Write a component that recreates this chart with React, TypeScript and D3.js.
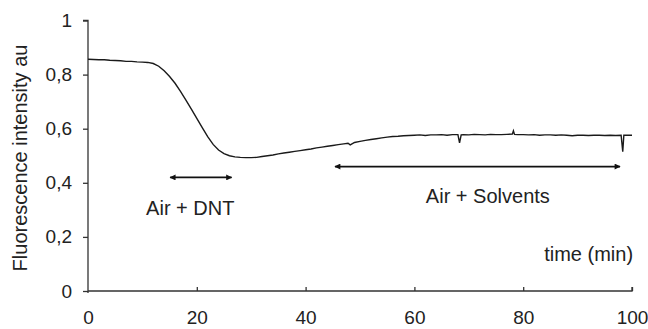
import React, { useEffect, useRef } from 'react';
import * as d3 from 'd3';

// time (min) and fluorescence intensity
const times = [
  0, 1, 2, 3, 4, 5, 6, 7, 8, 9, 10, 11, 12, 13, 14, 15, 16, 17, 18, 19,
  20, 21, 22, 23, 24, 25, 26, 27, 28, 29, 30, 31, 32, 33, 34, 35, 36, 37, 38, 39,
  40, 41, 42, 43, 44, 45, 46, 47, 47.8, 48.2, 49, 50, 51, 52, 53, 54, 55, 56, 57, 58, 59,
  60, 61, 62, 63, 64, 65, 66, 67, 68, 68.3, 68.6, 69, 70, 71, 72, 73, 74, 75, 76, 77,
  78, 78.2, 78.4, 79, 80, 81, 82, 83, 84, 85, 86, 87, 88, 89, 90, 91, 92, 93, 94, 95, 96, 97,
  98, 98.3, 98.5, 99, 100
];
const intensity = [
  0.857, 0.856, 0.855, 0.855, 0.853, 0.852, 0.851, 0.849, 0.849, 0.847, 0.846, 0.845, 0.841, 0.831, 0.814, 0.793, 0.768, 0.738, 0.706, 0.672,
  0.638, 0.604, 0.571, 0.542, 0.521, 0.508, 0.500, 0.496, 0.494, 0.493, 0.493, 0.494, 0.497, 0.500, 0.503, 0.507, 0.510, 0.513, 0.516, 0.519,
  0.522, 0.525, 0.529, 0.532, 0.535, 0.538, 0.541, 0.544, 0.546, 0.540, 0.549, 0.553, 0.557, 0.560, 0.563, 0.566, 0.569, 0.571, 0.572, 0.574, 0.575,
  0.576, 0.577, 0.575, 0.577, 0.577, 0.578, 0.576, 0.578, 0.578, 0.548, 0.577, 0.578, 0.577, 0.579, 0.578, 0.577, 0.579, 0.578, 0.578, 0.579,
  0.580, 0.592, 0.579, 0.578, 0.578, 0.577, 0.578, 0.576, 0.577, 0.577, 0.576, 0.577, 0.576, 0.574, 0.576, 0.576, 0.575, 0.576, 0.576, 0.575, 0.576, 0.575,
  0.576, 0.515, 0.576, 0.576, 0.576
];

const xTicks = [0, 20, 40, 60, 80, 100];
const yTicks = [0, 0.2, 0.4, 0.6, 0.8, 1];
const yTickLabels = ['0', '0,2', '0,4', '0,6', '0,8', '1'];

// exposure periods: start, end, arrow level, label position
const periodLabels = ['Air + DNT', 'Air + Solvents'];
const periodStart = [15.1, 45.4];
const periodEnd = [26.4, 97.8];
const periodLevel = [0.42, 0.46];
const periodTextX = [18.8, 73.5];
const periodTextY = [0.281, 0.324];

export default function App() {
  const svgRef = useRef<SVGSVGElement>(null);

  useEffect(() => {
    const width = 648;
    const height = 329;
    const font = 'Liberation Sans, Arial, sans-serif';

    const svg = d3.select(svgRef.current)
      .attr('width', width)
      .attr('height', height);
    svg.selectAll('*').remove();

    const x = d3.scaleLinear().domain([0, 100]).range([88, 632]);
    const y = d3.scaleLinear().domain([0, 1]).range([291, 20.5]);

    svg.append('rect').attr('width', width).attr('height', height).attr('fill', '#fff');

    svg.append('defs').append('marker')
      .attr('id', 'head')
      .attr('viewBox', '0 0 10 10')
      .attr('refX', 9).attr('refY', 5)
      .attr('markerWidth', 8).attr('markerHeight', 6)
      .attr('markerUnits', 'userSpaceOnUse')
      .attr('orient', 'auto-start-reverse')
      .append('path').attr('d', 'M0,0L10,5L0,10Z').attr('fill', '#111');

    // y axis
    const yAxis = svg.append('g').attr('transform', `translate(${x(0)},0)`)
      .call(d3.axisLeft(y).tickValues(yTicks).tickSize(5).tickPadding(11)
        .tickFormat((d, i) => yTickLabels[i]));
    yAxis.select('.domain').attr('d', `M-5,${y(1)}H0V${y(0) + 2}`);

    // x axis
    const xAxis = svg.append('g').attr('transform', `translate(0,${y(0)})`)
      .call(d3.axisBottom(x).tickValues(xTicks).tickSize(-4).tickPadding(20));
    xAxis.select('.domain').attr('d', `M${x(0)},0H${x(100)}V-4`);
    xAxis.selectAll('.tick line').filter((d) => d === 0).remove();

    [yAxis, xAxis].forEach((g) => {
      g.selectAll('path, line').attr('stroke', '#333').attr('stroke-width', 1.3);
      g.selectAll('text').attr('fill', '#222').attr('font-size', 19).attr('font-family', font);
    });

    // trace
    const pts: [number, number][] = times.map((t, i) => [t, intensity[i]]);
    svg.append('path')
      .datum(pts)
      .attr('fill', 'none')
      .attr('stroke', '#1a1a1a')
      .attr('stroke-width', 1.4)
      .attr('d', d3.line<[number, number]>().x((d) => x(d[0])).y((d) => y(d[1])));

    // arrows and labels
    periodLabels.forEach((label, i) => {
      svg.append('line')
        .attr('x1', x(periodStart[i])).attr('x2', x(periodEnd[i]))
        .attr('y1', y(periodLevel[i])).attr('y2', y(periodLevel[i]))
        .attr('stroke', '#111').attr('stroke-width', 1.8)
        .attr('marker-start', 'url(#head)').attr('marker-end', 'url(#head)');
      svg.append('text')
        .attr('x', x(periodTextX[i])).attr('y', y(periodTextY[i]))
        .attr('text-anchor', 'middle')
        .attr('font-size', 20).attr('font-family', font).attr('fill', '#222')
        .text(label);
    });

    svg.append('text')
      .attr('x', x(100.2)).attr('y', y(0.111))
      .attr('text-anchor', 'end')
      .attr('font-size', 20).attr('font-family', font).attr('fill', '#222')
      .text('time (min)');

    svg.append('text')
      .attr('transform', `translate(27,158) rotate(-90)`)
      .attr('text-anchor', 'middle')
      .attr('font-size', 20).attr('font-family', font).attr('fill', '#222')
      .text('Fluorescence intensity au');
  }, []);

  return (
    <div>
      <svg ref={svgRef} style={{ position: 'absolute', left: 0, top: 0, display: 'block' }} />
    </div>
  );
}
